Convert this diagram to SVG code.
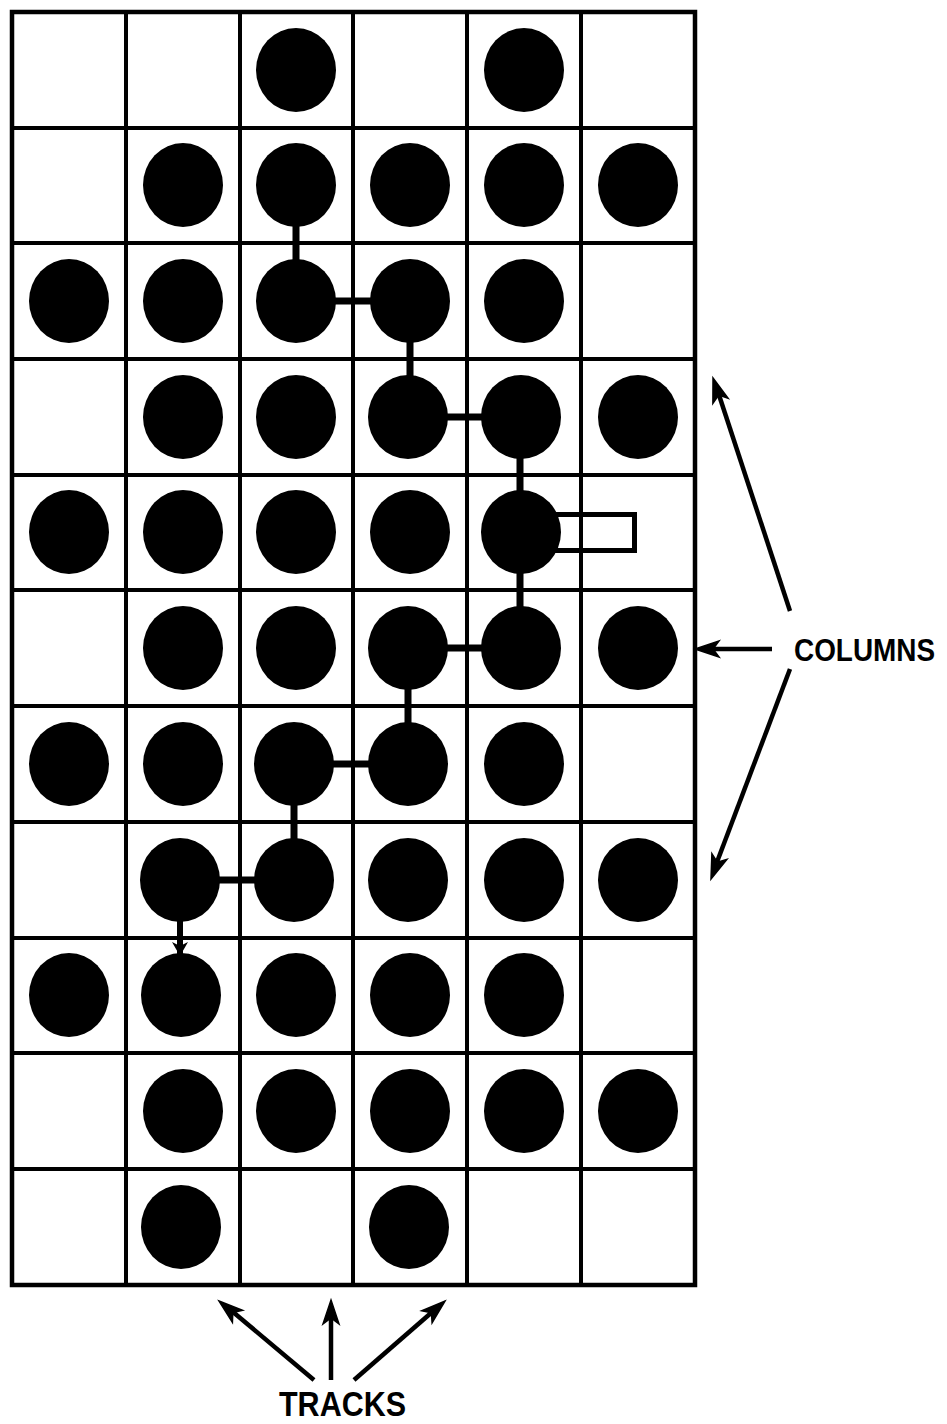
<svg xmlns="http://www.w3.org/2000/svg" width="947" height="1424" viewBox="0 0 947 1424">
<style>
.grid{fill:none;stroke:#000;stroke-width:4}
.dot{fill:#000}
.wire{stroke:#000;stroke-width:7;fill:none}
.ptr{stroke:#000;stroke-width:4.5;fill:none}
.head{fill:#000;stroke:#000;stroke-width:1.5;stroke-linejoin:miter}
.lbl{font-family:"Liberation Sans",Arial,sans-serif;font-weight:bold;fill:#000}
</style>
<defs>
<marker id="ahs" markerUnits="userSpaceOnUse" markerWidth="14" markerHeight="16" refX="12" refY="8" orient="auto">
<path d="M0,0 L14,8 L0,16 L4,8 z" fill="#000"/>
</marker>
</defs>
<rect width="947" height="1424" fill="#fff"/>
<g id="grid" class="grid">
<rect x="12" y="12" width="683" height="1273" stroke-width="4.5"/>
<path d="M126,12V1285M240,12V1285M353,12V1285M467,12V1285M581,12V1285M12,128H695M12,243H695M12,359H695M12,475H695M12,590H695M12,706H695M12,822H695M12,938H695M12,1053H695M12,1169H695"/>
</g>
<g id="connectors">
<path class="wire" d="M296,185V301H410V417H520V648H408V764H294V880H180"/>
<path d="M180,880V954" stroke="#000" stroke-width="6" marker-end="url(#ahs)"/>
<rect x="548" y="514.5" width="86.5" height="36" fill="none" stroke="#000" stroke-width="5"/>
</g>
<g id="dots" class="dot">
<ellipse cx="296" cy="70" rx="40" ry="42"/>
<ellipse cx="524" cy="70" rx="40" ry="42"/>
<ellipse cx="183" cy="185" rx="40" ry="42"/>
<ellipse cx="296" cy="185" rx="40" ry="42"/>
<ellipse cx="410" cy="185" rx="40" ry="42"/>
<ellipse cx="524" cy="185" rx="40" ry="42"/>
<ellipse cx="638" cy="185" rx="40" ry="42"/>
<ellipse cx="69" cy="301" rx="40" ry="42"/>
<ellipse cx="183" cy="301" rx="40" ry="42"/>
<ellipse cx="296" cy="301" rx="40" ry="42"/>
<ellipse cx="410" cy="301" rx="40" ry="42"/>
<ellipse cx="524" cy="301" rx="40" ry="42"/>
<ellipse cx="183" cy="417" rx="40" ry="42"/>
<ellipse cx="296" cy="417" rx="40" ry="42"/>
<ellipse cx="408" cy="417" rx="40" ry="42"/>
<ellipse cx="521" cy="417" rx="40" ry="42"/>
<ellipse cx="638" cy="417" rx="40" ry="42"/>
<ellipse cx="69" cy="532" rx="40" ry="42"/>
<ellipse cx="183" cy="532" rx="40" ry="42"/>
<ellipse cx="296" cy="532" rx="40" ry="42"/>
<ellipse cx="410" cy="532" rx="40" ry="42"/>
<ellipse cx="521" cy="532" rx="40" ry="42"/>
<ellipse cx="183" cy="648" rx="40" ry="42"/>
<ellipse cx="296" cy="648" rx="40" ry="42"/>
<ellipse cx="408" cy="648" rx="40" ry="42"/>
<ellipse cx="521" cy="648" rx="40" ry="42"/>
<ellipse cx="638" cy="648" rx="40" ry="42"/>
<ellipse cx="69" cy="764" rx="40" ry="42"/>
<ellipse cx="183" cy="764" rx="40" ry="42"/>
<ellipse cx="294" cy="764" rx="40" ry="42"/>
<ellipse cx="408" cy="764" rx="40" ry="42"/>
<ellipse cx="524" cy="764" rx="40" ry="42"/>
<ellipse cx="180" cy="880" rx="40" ry="42"/>
<ellipse cx="294" cy="880" rx="40" ry="42"/>
<ellipse cx="408" cy="880" rx="40" ry="42"/>
<ellipse cx="524" cy="880" rx="40" ry="42"/>
<ellipse cx="638" cy="880" rx="40" ry="42"/>
<ellipse cx="69" cy="995" rx="40" ry="42"/>
<ellipse cx="181" cy="995" rx="40" ry="42"/>
<ellipse cx="296" cy="995" rx="40" ry="42"/>
<ellipse cx="410" cy="995" rx="40" ry="42"/>
<ellipse cx="524" cy="995" rx="40" ry="42"/>
<ellipse cx="183" cy="1111" rx="40" ry="42"/>
<ellipse cx="296" cy="1111" rx="40" ry="42"/>
<ellipse cx="410" cy="1111" rx="40" ry="42"/>
<ellipse cx="524" cy="1111" rx="40" ry="42"/>
<ellipse cx="638" cy="1111" rx="40" ry="42"/>
<ellipse cx="181" cy="1227" rx="40" ry="42"/>
<ellipse cx="409" cy="1227" rx="40" ry="42"/>
</g>
<g id="columns-label">
<path class="ptr" d="M790,611L719,395"/>
<polygon class="head" points="713,378 728.1,398.3 718.7,395.1 712.9,403.3"/>
<path class="ptr" d="M772,649H713"/>
<polygon class="head" points="695,649 719,657 713,649 719,641"/>
<path class="ptr" d="M790,669L717,862"/>
<polygon class="head" points="711,879 726.9,859.4 717.3,862.2 711.9,853.7"/>
<text class="lbl" x="794" y="661" font-size="32" textLength="141" lengthAdjust="spacingAndGlyphs">COLUMNS</text>
</g>
<g id="tracks-label">
<path class="ptr" d="M314,1380L233,1312"/>
<polygon class="head" points="219,1301 242.6,1310.2 232.8,1312.5 232.4,1322.4"/>
<path class="ptr" d="M331,1380V1318"/>
<polygon class="head" points="331,1300 339,1324 331,1318 323,1324"/>
<path class="ptr" d="M354,1380L431,1313"/>
<polygon class="head" points="445,1301 432.1,1322.7 431.4,1312.8 421.7,1310.7"/>
<text class="lbl" x="279" y="1416" font-size="35" textLength="127" lengthAdjust="spacingAndGlyphs">TRACKS</text>
</g>
</svg>
